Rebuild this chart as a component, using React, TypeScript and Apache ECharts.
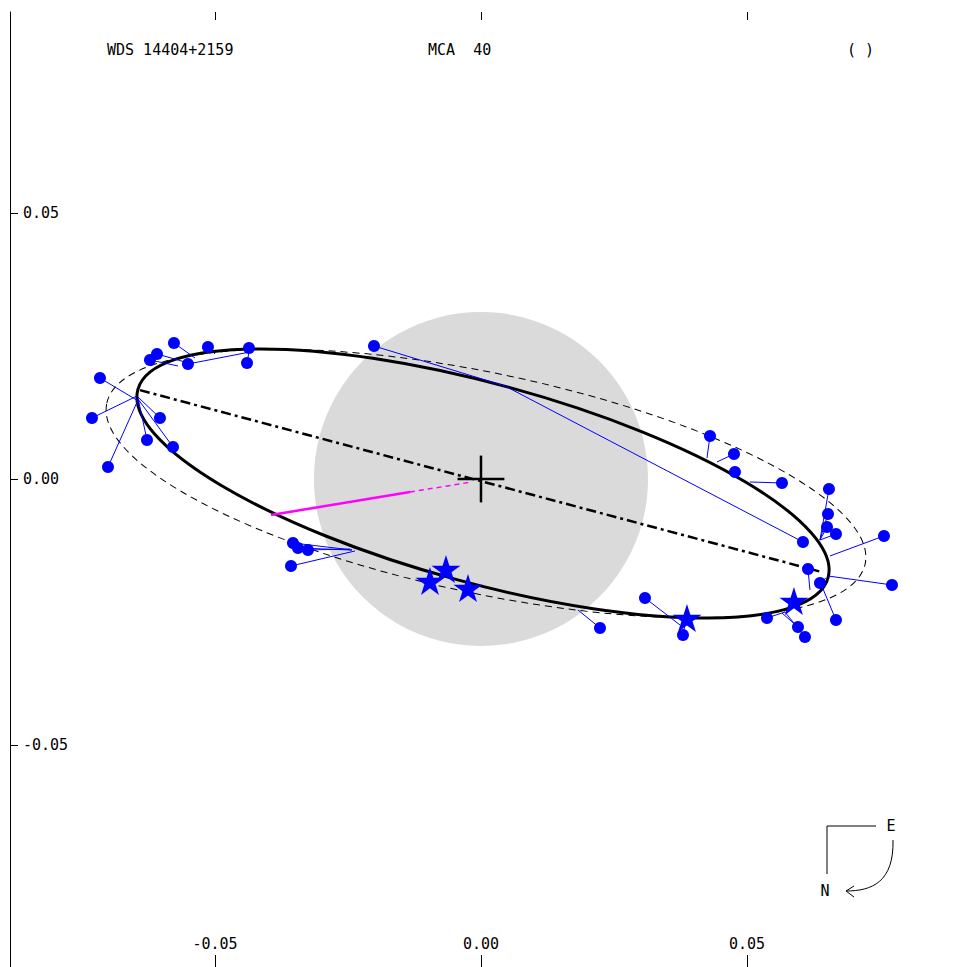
import React, { useEffect, useRef } from "react";
import * as echarts from "echarts";

// ---- axes ----
const X_RANGE = [-0.08853, 0.09023];
const Y_RANGE = [-0.09173, 0.08778];
const AXIS_TICKS = [-0.05, 0, 0.05];

// ---- titles ----
const TITLE_LEFT = "WDS 14404+2159";
const TITLE_MID = "MCA  40";
const TITLE_RIGHT = "( )";

// ---- geometry (data units) ----
const RESOLUTION_CIRCLE = [0, 0, 0.0314]; // cx, cy, r
const ORBIT_ELLIPSE = [0.00038, -0.00085, 0.06722, 0.01873, -15.25]; // cx, cy, a, b, angle deg
const PREV_ORBIT_ELLIPSE = [0.00094, -0.00085, 0.07288, 0.02068, -11.92];
const LINE_OF_NODES = [
  [-0.0641, 0.0167],
  [0.0641, -0.0175],
];
const PERI_SOLID = [
  [-0.03947, -0.00677],
  [-0.01335, -0.00244],
];
const PERI_DASHED = [
  [-0.01335, -0.00244],
  [-0.00169, -0.00056],
];
const PRIMARY = [0, 0];
const CROSS_HALF = 0.0044;

// ---- observations (dots) and their predicted positions ----
const DOT_OBS = [
  [-0.07162, 0.01898], [-0.07312, 0.01147], [-0.07011, 0.00226], [-0.06034, 0.01147],
  [-0.05789, 0.00602], [-0.06278, 0.00733], [-0.05771, 0.02556], [-0.05132, 0.02481],
  [-0.04361, 0.02462], [-0.04398, 0.0218], [-0.05508, 0.02162], [-0.0609, 0.0235],
  [-0.06222, 0.02237], [-0.03534, -0.01203], [-0.0344, -0.01297], [-0.03252, -0.01335],
  [-0.03571, -0.01635], [0.02237, -0.02801], [0.03083, -0.02237], [0.03797, -0.02932],
  [0.05376, -0.02613], [0.05959, -0.02782], [0.0609, -0.0297], [0.06673, -0.0265],
  [0.07726, -0.01992], [0.06372, -0.01955], [0.06147, -0.01692], [0.07575, -0.01071],
  [0.06541, -0.00188], [0.06523, -0.00658], [0.06504, -0.00902], [0.06673, -0.01034],
  [0.06053, -0.01184], [-0.02011, 0.025], [0.05658, -0.00075], [0.04774, 0.00132],
  [0.04756, 0.0047], [0.04305, 0.00808],
];
const DOT_PRED = [
  [-0.0641, 0.01447], [-0.06466, 0.0156], [-0.06447, 0.01485], [-0.06447, 0.01541],
  [-0.06447, 0.01504], [-0.06447, 0.01522], [-0.05376, 0.02274], [-0.05, 0.0235],
  [-0.04323, 0.02406], [-0.04361, 0.02387], [-0.04342, 0.02387], [-0.05564, 0.02199],
  [-0.05695, 0.02124], [-0.02425, -0.01335], [-0.02425, -0.01335], [-0.02462, -0.01316],
  [-0.02368, -0.01353], [0.01823, -0.02462], [0.03741, -0.02744], [0.03853, -0.0265],
  [0.05714, -0.025], [0.05658, -0.02519], [0.05714, -0.025], [0.06391, -0.01974],
  [0.06523, -0.01823], [0.06485, -0.01861], [0.06184, -0.02086], [0.0656, -0.01447],
  [0.06372, -0.01147], [0.06372, -0.01147], [0.06372, -0.01147], [0.06372, -0.01147],
  [0.00451, 0.01748], [0.00451, 0.01748], [0.05056, -0.00056], [0.04774, 0.00132],
  [0.04436, 0.0032], [0.04248, 0.00395],
];

// ---- observations (stars) ----
const STAR_OBS = [
  [-0.00658, -0.01692], [-0.00959, -0.01917], [-0.00244, -0.02049],
  [0.03872, -0.02613], [0.05883, -0.02293],
];

const FONT = '"DejaVu Sans Mono", "Liberation Mono", monospace';
const STAR_PATH =
  "path://M50,0L61.2,34.5L97.6,34.5L68.2,55.9L79.4,90.5L50,69.1L20.6,90.5L31.8,55.9L2.4,34.5L38.8,34.5Z";

function ellipseSeries(vals: number[], style: any, z: number) {
  return {
    type: "custom",
    z,
    silent: true,
    data: [vals],
    renderItem: (params: any, api: any) => {
      const c = api.coord([api.value(0), api.value(1)]);
      const s = api.size([api.value(2), api.value(3)]);
      return {
        type: "ellipse",
        x: c[0],
        y: c[1],
        rotation: (api.value(4) * Math.PI) / 180,
        shape: { cx: 0, cy: 0, rx: s[0], ry: s[1] },
        style: Object.assign({ fill: "none" }, style),
      };
    },
  };
}

function segmentSeries(segs: number[][], style: any, z: number) {
  return {
    type: "custom",
    z,
    silent: true,
    data: segs,
    renderItem: (params: any, api: any) => {
      const p1 = api.coord([api.value(0), api.value(1)]);
      const p2 = api.coord([api.value(2), api.value(3)]);
      return {
        type: "line",
        shape: { x1: p1[0], y1: p1[1], x2: p2[0], y2: p2[1] },
        style: Object.assign({ fill: "none" }, style),
      };
    },
  };
}

export default function App() {
  const ref = useRef<HTMLDivElement>(null);
  useEffect(() => {
    if (!ref.current) return;
    const chart = echarts.init(ref.current, undefined, { renderer: "svg" });
    const fmt = (v: number) => v.toFixed(2);
    const textStyle = (text: string, x: number, y: number, align = "left") => ({
      type: "text",
      x,
      y,
      silent: true,
      style: { text, font: `15px ${FONT}`, fill: "#000", align, verticalAlign: "middle" },
    });
    const ocSegs = DOT_OBS.map((o, i) => [o[0], o[1], DOT_PRED[i][0], DOT_PRED[i][1]]);
    const option: any = {
      animation: false,
      backgroundColor: "#ffffff",
      grid: { left: 10, top: 12, right: 0, bottom: 0, containLabel: false },
      xAxis: [
        {
          type: "value",
          min: X_RANGE[0],
          max: X_RANGE[1],
          position: "bottom",
          axisLine: { show: false, onZero: false },
          axisTick: { show: true, inside: true, length: 12, customValues: AXIS_TICKS, lineStyle: { color: "#000", width: 1 } },
          axisLabel: { show: true, inside: true, margin: 16, customValues: AXIS_TICKS, formatter: fmt, color: "#000", fontFamily: FONT, fontSize: 15 },
          splitLine: { show: false },
        },
        {
          type: "value",
          min: X_RANGE[0],
          max: X_RANGE[1],
          position: "top",
          axisLine: { show: false, onZero: false },
          axisTick: { show: true, inside: true, length: 8, customValues: AXIS_TICKS, lineStyle: { color: "#000", width: 1 } },
          axisLabel: { show: false },
          splitLine: { show: false },
        },
      ],
      yAxis: {
        type: "value",
        min: Y_RANGE[0],
        max: Y_RANGE[1],
        position: "left",
        axisLine: { show: true, onZero: false, lineStyle: { color: "#000", width: 1 } },
        axisTick: { show: true, inside: true, length: 8, customValues: AXIS_TICKS, lineStyle: { color: "#000", width: 1 } },
        axisLabel: { show: true, inside: true, margin: 13, customValues: AXIS_TICKS, formatter: fmt, color: "#000", fontFamily: FONT, fontSize: 15 },
        splitLine: { show: false },
      },
      graphic: [
        textStyle(TITLE_LEFT, 107, 50),
        textStyle(TITLE_MID, 428, 50),
        textStyle(TITLE_RIGHT, 847, 50),
        { type: "line", silent: true, shape: { x1: 827, y1: 826, x2: 876, y2: 826 }, style: { stroke: "#000", lineWidth: 1 } },
        { type: "line", silent: true, shape: { x1: 827, y1: 826, x2: 827, y2: 874 }, style: { stroke: "#000", lineWidth: 1 } },
        textStyle("E", 891, 826, "center"),
        textStyle("N", 825, 891, "center"),
        {
          type: "bezierCurve",
          silent: true,
          shape: { x1: 893, y1: 840, cpx1: 894, cpy1: 882, cpx2: 872, cpy2: 891, x2: 846, y2: 891 },
          style: { stroke: "#000", lineWidth: 1, fill: "none" },
        },
        {
          type: "polyline",
          silent: true,
          shape: { points: [[854, 886], [846, 891], [854, 897]] },
          style: { stroke: "#000", lineWidth: 1, fill: "none" },
        },
      ],
      series: [
        {
          type: "custom",
          z: 1,
          silent: true,
          data: [RESOLUTION_CIRCLE],
          renderItem: (params: any, api: any) => {
            const c = api.coord([api.value(0), api.value(1)]);
            const r = api.size([api.value(2), 0])[0];
            return { type: "circle", shape: { cx: c[0], cy: c[1], r }, style: { fill: "#dadada" } };
          },
        },
        ellipseSeries(PREV_ORBIT_ELLIPSE, { stroke: "#000", lineWidth: 1, lineDash: [7, 5] }, 2),
        ellipseSeries(ORBIT_ELLIPSE, { stroke: "#000", lineWidth: 3 }, 3),
        segmentSeries(
          [[LINE_OF_NODES[0][0], LINE_OF_NODES[0][1], LINE_OF_NODES[1][0], LINE_OF_NODES[1][1]]],
          { stroke: "#000", lineWidth: 2.5, lineDash: [10, 4, 3, 4] },
          4
        ),
        segmentSeries(
          [[PERI_SOLID[0][0], PERI_SOLID[0][1], PERI_SOLID[1][0], PERI_SOLID[1][1]]],
          { stroke: "#ff00ff", lineWidth: 2.5 },
          5
        ),
        segmentSeries(
          [[PERI_DASHED[0][0], PERI_DASHED[0][1], PERI_DASHED[1][0], PERI_DASHED[1][1]]],
          { stroke: "#ff00ff", lineWidth: 1.5, lineDash: [5, 4] },
          5
        ),
        segmentSeries(ocSegs, { stroke: "#0000ff", lineWidth: 1 }, 6),
        segmentSeries(
          [
            [PRIMARY[0] - CROSS_HALF, PRIMARY[1], PRIMARY[0] + CROSS_HALF, PRIMARY[1]],
            [PRIMARY[0], PRIMARY[1] - CROSS_HALF, PRIMARY[0], PRIMARY[1] + CROSS_HALF],
          ],
          { stroke: "#000", lineWidth: 2.5 },
          7
        ),
        {
          type: "scatter",
          z: 8,
          silent: true,
          symbol: "circle",
          symbolSize: 12,
          itemStyle: { color: "#0000ff", opacity: 1 },
          data: DOT_OBS,
        },
        {
          type: "scatter",
          z: 9,
          silent: true,
          symbol: STAR_PATH,
          symbolSize: [29, 28],
          itemStyle: { color: "#0000ff", opacity: 1 },
          data: STAR_OBS,
        },
      ],
    };
    chart.setOption(option);
    return () => chart.dispose();
  }, []);
  return (
    <div
      ref={ref}
      style={{ position: "fixed", left: 0, top: 0, width: 961, height: 967, background: "#fff" }}
    />
  );
}
